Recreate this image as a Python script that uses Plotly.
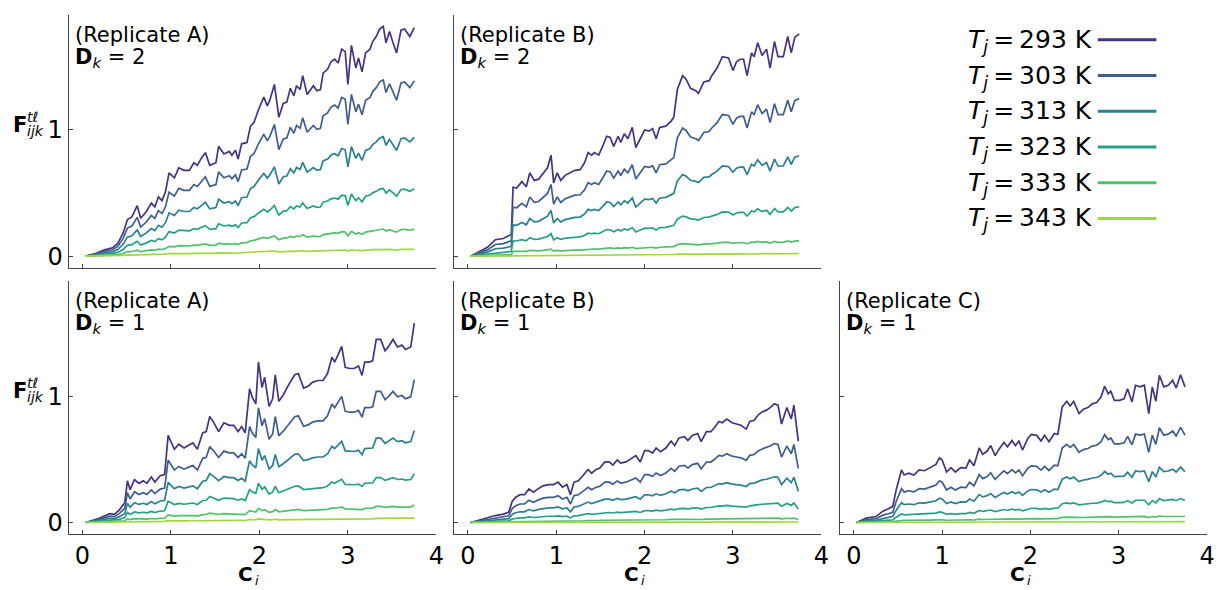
import plotly.graph_objects as go

W, H = 1222, 590
FONT = "DejaVu Sans"

temperatures = [293, 303, 313, 323, 333, 343]
line_colors = ["#46327e", "#3e5d8d", "#2b7f8e", "#24a086", "#4fc06b", "#9fd83b"]

# ---- Replicate A, D_k = 2 -------------------------------------------------
c_a_d2 = [0.04, 0.15, 0.25, 0.34, 0.40, 0.46, 0.51, 0.56, 0.62, 0.66,
          0.72, 0.78, 0.82, 0.86, 0.90, 0.94, 0.98, 1.04, 1.09, 1.15,
          1.21, 1.26, 1.30, 1.34, 1.39, 1.44, 1.51, 1.54, 1.60, 1.66,
          1.69, 1.73, 1.76, 1.80, 1.86, 1.90, 1.94, 1.99, 2.05, 2.09,
          2.12, 2.17, 2.22, 2.27, 2.31, 2.35, 2.39, 2.42, 2.46, 2.49,
          2.54, 2.61, 2.65, 2.69, 2.72, 2.77, 2.81, 2.85, 2.89, 2.93,
          2.97, 3.00, 3.04, 3.09, 3.12, 3.16, 3.20, 3.25, 3.28, 3.32,
          3.36, 3.40, 3.43, 3.47, 3.51, 3.55, 3.60, 3.64, 3.70, 3.75]
f293_a_d2 = [0, 0.02, 0.05, 0.066, 0.10, 0.18, 0.29, 0.31, 0.40, 0.30,
             0.35, 0.42, 0.39, 0.47, 0.44, 0.51, 0.66, 0.62, 0.70, 0.68,
             0.68, 0.74, 0.72, 0.77, 0.82, 0.72, 0.74, 0.87, 0.81, 0.83,
             0.80, 0.84, 0.77, 0.89, 0.90, 1.03, 1.06, 1.16, 1.26, 1.19,
             1.24, 1.36, 1.10, 1.21, 1.22, 1.33, 1.27, 1.35, 1.32, 1.43,
             1.28, 1.35, 1.31, 1.32, 1.45, 1.48, 1.54, 1.56, 1.53, 1.64,
             1.62, 1.36, 1.67, 1.49, 1.57, 1.46, 1.61, 1.64, 1.70, 1.74,
             1.80, 1.82, 1.69, 1.78, 1.69, 1.61, 1.79, 1.80, 1.74, 1.81]
rel_a_d2 = [1.0, 0.767, 0.52, 0.295, 0.118, 0.030]

# ---- Replicate B, D_k = 2 -------------------------------------------------
c_b_d2 = [0.03, 0.22, 0.31, 0.40, 0.47, 0.49, 0.51, 0.55, 0.61, 0.66,
          0.70, 0.75, 0.80, 0.85, 0.90, 0.94, 0.97, 1.01, 1.05, 1.10,
          1.15, 1.21, 1.27, 1.32, 1.36, 1.40, 1.43, 1.48, 1.53, 1.57,
          1.61, 1.65, 1.70, 1.73, 1.77, 1.81, 1.86, 1.90, 1.95, 2.00,
          2.05, 2.09, 2.13, 2.17, 2.24, 2.30, 2.33, 2.37, 2.43, 2.47,
          2.52, 2.58, 2.61, 2.67, 2.73, 2.76, 2.82, 2.88, 2.95, 3.00,
          3.04, 3.08, 3.12, 3.16, 3.21, 3.24, 3.28, 3.33, 3.38, 3.42,
          3.47, 3.51, 3.57, 3.62, 3.66, 3.70, 3.75]
f293_b_d2 = [0, 0.07, 0.13, 0.14, 0.165, 0.17, 0.546, 0.54, 0.59, 0.55,
             0.66, 0.60, 0.61, 0.66, 0.70, 0.80, 0.58, 0.66, 0.60, 0.64,
             0.66, 0.68, 0.685, 0.74, 0.82, 0.80, 0.82, 0.80, 0.88, 0.95,
             0.94, 0.87, 0.95, 0.90, 0.97, 0.93, 1.02, 0.86, 0.93, 1.00,
             0.99, 1.01, 0.93, 1.02, 1.03, 1.07, 1.10, 1.32, 1.43, 1.40,
             1.33, 1.31, 1.29, 1.38, 1.39, 1.43, 1.49, 1.58, 1.57, 1.47,
             1.54, 1.56, 1.56, 1.43, 1.61, 1.58, 1.69, 1.59, 1.64, 1.49,
             1.70, 1.58, 1.58, 1.74, 1.61, 1.735, 1.76]
rel_b_d2 = [1.0, 0.71, 0.452, 0.222, 0.069, 0.012]

# ---- Replicate A, D_k = 1 -------------------------------------------------
c_a_d1 = [0.04, 0.19, 0.31, 0.36, 0.42, 0.48, 0.51, 0.54, 0.59, 0.64,
          0.69, 0.73, 0.78, 0.82, 0.88, 0.93, 0.97, 1.04, 1.09, 1.15,
          1.21, 1.25, 1.30, 1.36, 1.40, 1.44, 1.49, 1.54, 1.60, 1.66,
          1.71, 1.76, 1.80, 1.84, 1.89, 1.92, 1.96, 1.99, 2.03, 2.06,
          2.11, 2.15, 2.18, 2.22, 2.27, 2.33, 2.40, 2.44, 2.50, 2.55,
          2.60, 2.66, 2.72, 2.77, 2.82, 2.85, 2.89, 2.93, 2.97, 3.02,
          3.07, 3.12, 3.16, 3.19, 3.24, 3.28, 3.32, 3.37, 3.42, 3.46,
          3.51, 3.56, 3.61, 3.65, 3.71, 3.75]
f293_a_d1 = [0, 0.034, 0.07, 0.065, 0.10, 0.157, 0.33, 0.26, 0.34, 0.31,
             0.33, 0.31, 0.36, 0.32, 0.37, 0.38, 0.69, 0.58, 0.62, 0.59,
             0.615, 0.63, 0.58, 0.71, 0.72, 0.84, 0.785, 0.72, 0.79, 0.77,
             0.77, 0.72, 0.76, 0.71, 1.06, 0.99, 0.94, 1.27, 1.07, 1.15,
             0.92, 0.98, 1.17, 0.96, 1.01, 1.09, 1.17, 1.18, 1.065, 1.08,
             1.11, 1.125, 1.125, 1.18, 1.31, 1.27, 1.33, 1.395, 1.23, 1.22,
             1.22, 1.24, 1.165, 1.27, 1.27, 1.28, 1.45, 1.45, 1.36, 1.395,
             1.45, 1.39, 1.405, 1.37, 1.39, 1.58]
rel_a_d1 = [1.0, 0.716, 0.461, 0.245, 0.088, 0.022]

# ---- Replicate B, D_k = 1 -------------------------------------------------
c_b_d1 = [0.03, 0.18, 0.31, 0.40, 0.46, 0.50, 0.54, 0.59, 0.64, 0.69,
          0.74, 0.80, 0.85, 0.91, 0.97, 1.02, 1.07, 1.12, 1.16, 1.20,
          1.25, 1.30, 1.36, 1.40, 1.45, 1.49, 1.55, 1.60, 1.64, 1.69,
          1.73, 1.79, 1.84, 1.90, 1.95, 2.00, 2.04, 2.09, 2.13, 2.18,
          2.24, 2.30, 2.34, 2.39, 2.45, 2.49, 2.54, 2.60, 2.64, 2.70,
          2.75, 2.79, 2.84, 2.88, 2.93, 2.99, 3.04, 3.09, 3.15, 3.19,
          3.24, 3.29, 3.33, 3.38, 3.42, 3.47, 3.51, 3.55, 3.61, 3.66,
          3.69, 3.74]
f293_b_d1 = [0, 0.03, 0.055, 0.066, 0.08, 0.166, 0.20, 0.22, 0.22, 0.266,
             0.24, 0.27, 0.29, 0.30, 0.30, 0.32, 0.28, 0.30, 0.22, 0.32,
             0.33, 0.37, 0.42, 0.39, 0.42, 0.43, 0.48, 0.48, 0.455, 0.495,
             0.47, 0.48, 0.50, 0.53, 0.48, 0.57, 0.57, 0.55, 0.59, 0.56,
             0.59, 0.645, 0.61, 0.67, 0.68, 0.65, 0.69, 0.705, 0.64, 0.72,
             0.72, 0.75, 0.80, 0.79, 0.82, 0.79, 0.78, 0.77, 0.74, 0.80,
             0.81, 0.855, 0.876, 0.89, 0.91, 0.94, 0.93, 0.78, 0.91, 0.82,
             0.93, 0.645]
rel_b_d1 = [1.0, 0.665, 0.385, 0.165, 0.037, 0.006]

# ---- Replicate C, D_k = 1 -------------------------------------------------
c_c_d1 = [0.03, 0.14, 0.25, 0.33, 0.39, 0.44, 0.48, 0.54, 0.57, 0.62,
          0.68, 0.74, 0.80, 0.87, 0.93, 0.97, 1.00, 1.05, 1.10, 1.15,
          1.21, 1.27, 1.31, 1.36, 1.42, 1.46, 1.51, 1.55, 1.60, 1.65,
          1.70, 1.74, 1.79, 1.83, 1.87, 1.91, 1.97, 2.01, 2.07, 2.12,
          2.16, 2.21, 2.27, 2.31, 2.36, 2.41, 2.45, 2.49, 2.55, 2.60,
          2.65, 2.70, 2.75, 2.80, 2.84, 2.88, 2.91, 2.95, 3.01, 3.06,
          3.10, 3.15, 3.19, 3.24, 3.29, 3.34, 3.38, 3.42, 3.46, 3.51,
          3.56, 3.61, 3.65, 3.70, 3.75]
f293_c_d1 = [0, 0.034, 0.047, 0.09, 0.108, 0.126, 0.26, 0.416, 0.376, 0.39,
             0.376, 0.416, 0.41, 0.434, 0.46, 0.513, 0.495, 0.40, 0.434, 0.40,
             0.434, 0.43, 0.495, 0.45, 0.59, 0.54, 0.566, 0.61, 0.53, 0.587,
             0.634, 0.60, 0.65, 0.61, 0.645, 0.574, 0.666, 0.697, 0.69, 0.645,
             0.69, 0.64, 0.705, 0.697, 0.916, 0.96, 0.924, 0.96, 0.863, 0.897,
             0.91, 0.94, 0.95, 0.995, 1.08, 1.02, 1.04, 0.968, 0.968, 0.98,
             1.06, 0.955, 1.087, 1.074, 1.087, 0.863, 1.074, 0.96, 1.166, 1.074,
             1.087, 1.126, 1.066, 1.17, 1.074]
rel_c_d1 = [1.0, 0.644, 0.375, 0.162, 0.044, 0.007]

x_ticks = [0, 1, 2, 3, 4]
y_ticks = [0, 1]
x_range = [-0.155, 4.0]
y_range = [-0.091, 1.911]

# pixel frame of each column / row
cols = [(69.0, 439.3), (457.3, 826.7), (845.7, 1215.0)]
rows = [(15.0, 269.0), (282.7, 536.7)]

THIN = "\u2009"


def px(x):
    return x / W


def py(y):
    return 1 - y / H


def label(x, y, text, size, xanchor="left", yanchor="middle"):
    return dict(x=px(x), y=py(y), xref="paper", yref="paper", text=text,
                showarrow=False, xanchor=xanchor, yanchor=yanchor, borderpad=0,
                font=dict(family=FONT, size=size, color="black"))


panels = [
    dict(n=1, row=0, col=0, c=c_a_d2, f=f293_a_d2, rel=rel_a_d2, rep="A", d=2),
    dict(n=2, row=0, col=1, c=c_b_d2, f=f293_b_d2, rel=rel_b_d2, rep="B", d=2),
    dict(n=3, row=1, col=0, c=c_a_d1, f=f293_a_d1, rel=rel_a_d1, rep="A", d=1),
    dict(n=4, row=1, col=1, c=c_b_d1, f=f293_b_d1, rel=rel_b_d1, rep="B", d=1),
    dict(n=5, row=1, col=2, c=c_c_d1, f=f293_c_d1, rel=rel_c_d1, rep="C", d=1),
]

fig = go.Figure()
layout = dict(
    width=W, height=H,
    margin=dict(l=0, r=0, t=0, b=0),
    paper_bgcolor="white", plot_bgcolor="white",
    showlegend=False,
    font=dict(family=FONT, color="black"),
)
annotations = []
shapes = []
axis_color = "#444444"

for p in panels:
    n = p["n"]
    sfx = "" if n == 1 else str(n)
    x0, x1 = cols[p["col"]]
    y0, y1 = rows[p["row"]]
    for k, T in enumerate(temperatures):
        fig.add_trace(go.Scatter(
            x=p["c"], y=[v * p["rel"][k] for v in p["f"]],
            mode="lines", name=f"T = {T} K",
            line=dict(color=line_colors[k], width=1.7),
            xaxis="x" + sfx, yaxis="y" + sfx,
        ))
    common = dict(showgrid=False, zeroline=False, showline=True,
                  linecolor=axis_color, linewidth=1, ticks="inside",
                  ticklen=4, tickwidth=1, tickcolor=axis_color,
                  tickfont=dict(family=FONT, size=24, color="black"))
    layout["xaxis" + sfx] = dict(
        common, domain=[px(x0), px(x1)], range=x_range, tickvals=x_ticks,
        anchor="y" + sfx, showticklabels=(p["row"] == 1))
    layout["yaxis" + sfx] = dict(
        common, domain=[py(y1), py(y0)], range=y_range, tickvals=y_ticks,
        anchor="x" + sfx, showticklabels=(p["col"] == 0))

    # panel captions
    annotations.append(label(x0 + 5, y0 + 20, f"(Replicate {p['rep']})", 21))
    annotations.append(label(x0 + 5, y0 + 43,
                             f"<b>D</b><sub><i>k</i></sub> = {p['d']}", 21))

    # x-axis title under the bottom row: bold C with italic subscript i
    if p["row"] == 1:
        xc = (x0 + x1) / 2
        annotations.append(label(xc + 2, 590, "<b>C</b>", 20,
                                 xanchor="right", yanchor="bottom"))
        annotations.append(label(xc + 2, 583, "<i>i</i>", 13))

    # y-axis title for the left column
    if p["col"] == 0:
        y_one = y1 - (1 - y_range[0]) / (y_range[1] - y_range[0]) * (y1 - y0)
        annotations.append(label(12, y_one - 5, "<b>F</b>", 21))
        annotations.append(label(26, y_one - 13, "<i>tℓ</i>", 14))
        annotations.append(label(26, y_one + 1, "<i>ijk</i>", 14))

# legend: label on the left, line sample on the right
for k, T in enumerate(temperatures):
    yc = 40 + 35.9 * k
    annotations.append(label(
        1100, yc + 1, f"<i>T</i><sub><i>j</i></sub>{THIN}={THIN}{T} K", 25,
        xanchor="right"))
    shapes.append(dict(
        type="line", xref="paper", yref="paper",
        x0=px(1105), x1=px(1164), y0=py(yc), y1=py(yc),
        line=dict(color=line_colors[k], width=3)))

layout["annotations"] = annotations
layout["shapes"] = shapes
fig.update_layout(**layout)
fig.write_html("out.html")
